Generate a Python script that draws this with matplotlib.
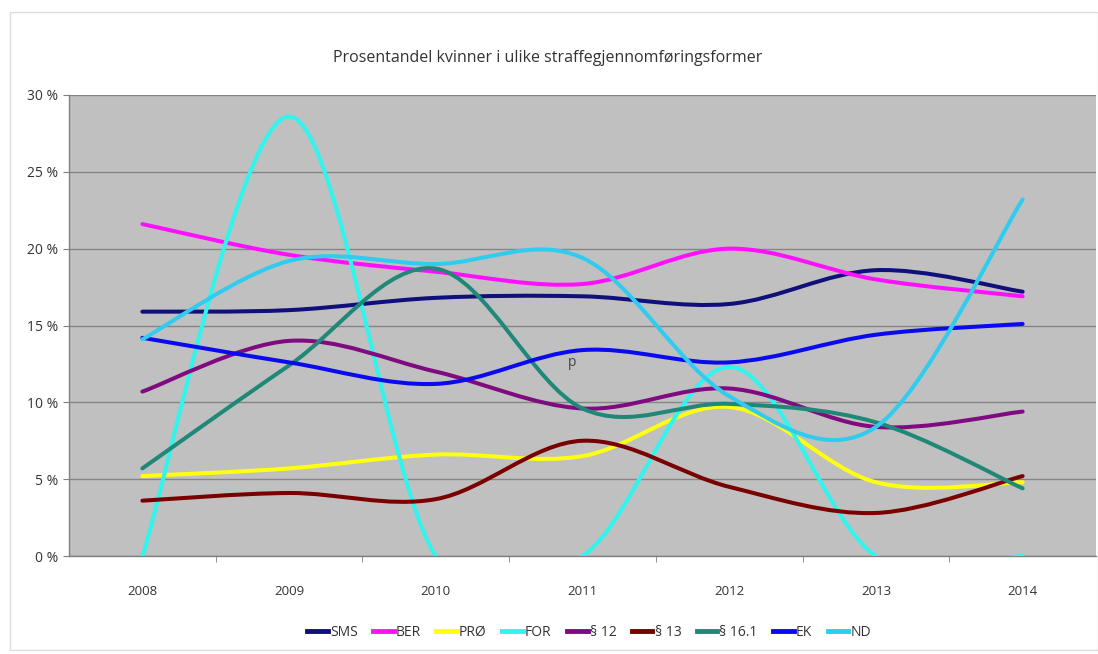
import matplotlib
matplotlib.use("Agg")
import matplotlib.pyplot as plt
from matplotlib.path import Path
from matplotlib.patches import PathPatch, Rectangle
from matplotlib.lines import Line2D
from matplotlib import font_manager

# ---- data ----
years = ["2008", "2009", "2010", "2011", "2012", "2013", "2014"]
SMS = [15.9, 16.0, 16.8, 16.9, 16.4, 18.6, 17.2]
BER = [21.6, 19.6, 18.5, 17.7, 20.0, 18.0, 16.9]
PRO = [5.2, 5.7, 6.6, 6.5, 9.7, 4.8, 4.8]
FOR = [0.0, 28.6, 0.0, 0.0, 12.3, 0.0, 0.0]
P12 = [10.7, 14.0, 12.0, 9.6, 10.9, 8.4, 9.4]
P13 = [3.6, 4.1, 3.7, 7.5, 4.5, 2.8, 5.2]
P161 = [5.7, 12.4, 18.7, 9.6, 9.9, 8.7, 4.4]
EK = [14.2, 12.6, 11.2, 13.4, 12.6, 14.4, 15.1]
ND = [14.1, 19.2, 19.0, 19.4, 10.4, 8.4, 23.2]

series_names = ["SMS", "BER", "PRØ", "FOR", "§ 12", "§ 13", "§ 16.1", "EK", "ND"]
series_values = [SMS, BER, PRO, FOR, P12, P13, P161, EK, ND]
series_colors = ["#10107a", "#ff10ff", "#ffff10", "#30f4ee", "#800a80",
                 "#7a0000", "#1f8878", "#0a0aee", "#30ccf0"]
title = "Prosentandel kvinner i ulike straffegjennomføringsformer"
ytick_vals = [0, 5, 10, 15, 20, 25, 30]

# ---- fonts ----
avail = {f.name for f in font_manager.fontManager.ttflist}
fams = [f for f in ["Liberation Sans Narrow", "Open Sans", "DejaVu Sans"] if f in avail]
plt.rcParams["font.family"] = fams
txt_color = "#333333"


def smooth_path(xs, ys):
    """Excel-like smoothed line: cubic Bezier segments with Catmull-Rom control points."""
    n = len(xs)
    verts = [(xs[0], ys[0])]
    codes = [Path.MOVETO]
    for i in range(n - 1):
        i0 = max(i - 1, 0)
        i3 = min(i + 2, n - 1)
        c1 = (xs[i] + (xs[i + 1] - xs[i0]) / 6.0, ys[i] + (ys[i + 1] - ys[i0]) / 6.0)
        c2 = (xs[i + 1] - (xs[i3] - xs[i]) / 6.0, ys[i + 1] - (ys[i3] - ys[i]) / 6.0)
        verts += [c1, c2, (xs[i + 1], ys[i + 1])]
        codes += [Path.CURVE4, Path.CURVE4, Path.CURVE4]
    return Path(verts, codes)


W, H = 1098, 654
fig = plt.figure(figsize=(W / 100, H / 100), dpi=100)
fig.patch.set_facecolor("white")

# faint chart border
fig.add_artist(Rectangle((10 / W, 4 / H), 1 - 10 / W, 1 - 16 / H, transform=fig.transFigure,
                         fill=False, edgecolor="#dcdcdc", linewidth=1.0))

left, right, top, bottom = 69, 1096, 95, 556
ax = fig.add_axes([left / W, 1 - bottom / H, (right - left) / W, (bottom - top) / H])
ax.set_facecolor("#c0c0c0")

xs = list(range(len(years)))
for vals, col in zip(series_values, series_colors):
    p = smooth_path(xs, vals)
    ax.add_patch(PathPatch(p, fill=False, edgecolor=col, linewidth=2.9,
                           capstyle="round", joinstyle="round", zorder=3))

ax.set_xlim(-0.5, len(years) - 0.5)
ax.set_ylim(0, 30)

# gridlines
ax.set_yticks(ytick_vals)
ax.set_yticklabels([f"{v} %" for v in ytick_vals], fontsize=10, color=txt_color)
ax.yaxis.grid(True, color="#858585", linewidth=1.0)
ax.set_axisbelow(True)
ax.tick_params(axis="y", length=4, color="#808080", pad=4)

ax.set_xticks(xs)
ax.set_xticklabels(years, fontsize=9.5, color=txt_color)
ax.tick_params(axis="x", which="major", length=0, pad=21)
ax.set_xticks([x - 0.5 for x in xs[1:]], minor=True)
ax.tick_params(axis="x", which="minor", length=4, color="#808080")

for s in ["top", "right"]:
    ax.spines[s].set_visible(False)
for s in ["left", "bottom"]:
    ax.spines[s].set_color("#808080")
    ax.spines[s].set_linewidth(1.0)

# stray label in original
ax.text(2.93, 12.6, "p", fontsize=10, color="#444444", ha="center", va="center", zorder=4)

fig.text(548 / W, 1 - 58 / H, title, ha="center", va="center", fontsize=11.5, color=txt_color)

handles = [Line2D([], [], color=c, linewidth=3.5) for c in series_colors]
fig.legend(handles, series_names, loc="center", bbox_to_anchor=(589 / W, 1 - 632 / H),
           ncol=len(series_names), frameon=False, fontsize=10, handlelength=1.5,
           handletextpad=0.15, columnspacing=1.1, labelcolor=txt_color)

fig.savefig("out.png", dpi=100, facecolor="white")
